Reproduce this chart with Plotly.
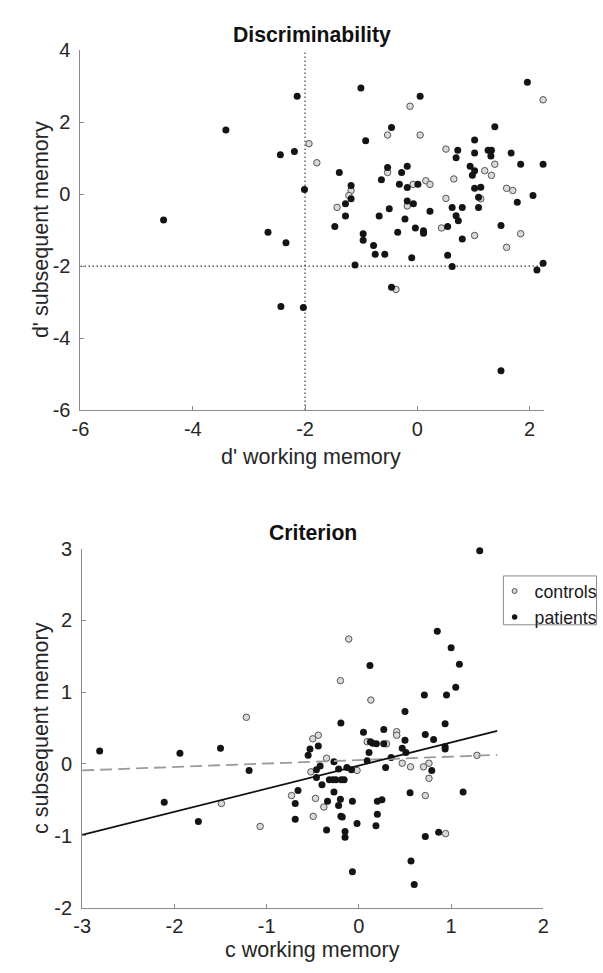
import numpy as np
import plotly.graph_objects as go

# ---- Discriminability (d') : working memory vs subsequent memory ----
dprime_wm_controls = [2.24, -0.13, -0.53, 0.05, -1.93, -1.79, -1.18, -1.22, -1.43, -0.38,
                      -0.53, -0.075, 0.15, 0.225, -0.18, 0.51, 0.65, 0.51, 0.43, 1.02,
                      1.20, 1.32, 1.38, 1.13, 1.59, 1.70, 1.84, 1.59]
dprime_sm_controls = [2.62, 2.44, 1.64, 1.64, 1.40, 0.87, 0.10, -0.04, -0.37, -2.65,
                      0.60, 0.27, 0.37, 0.27, -0.33, 1.25, 0.42, -0.12, -0.94, -1.15,
                      0.65, 0.52, 0.83, -0.13, 0.16, 0.10, -1.10, -1.48]

dprime_wm_patients = [-4.52, -3.41, -2.14, -2.44, -2.19, -2.66, -2.34, -2.43, -2.03, -1.005,
                      0.05, 1.96, -0.46, 1.38, -0.92, -2.01, -1.39, -1.18, -1.18, -1.28,
                      -1.28, -1.47, -0.965, -0.965, -0.78, -0.75, -0.58, -1.11, -0.46, -0.10,
                      -0.68, -0.64, -0.53, -0.28, -0.18, -0.32, -0.18, 0.01, -0.18, -0.07,
                      -0.50, -0.22, -0.35, -0.035, 0.11, 0.11, 0.225, 0.72, 0.69, 0.62,
                      0.80, 0.69, 0.73, 0.54, 0.80, 0.54, 0.62, 1.02, 1.02, 1.26,
                      1.32, 1.31, 0.94, 1.02, 0.98, 1.02, 1.13, 1.09, 1.09, 1.67,
                      1.84, 2.24, 1.78, 2.06, 1.49, 2.24, 2.13, 1.49]
dprime_sm_patients = [-0.72, 1.78, 2.72, 1.09, 1.18, -1.06, -1.35, -3.12, -3.15, 2.95,
                      2.72, 3.11, 1.85, 1.87, 1.48, 0.13, 0.60, 0.24, -0.13, -0.27,
                      -0.61, -0.90, -1.10, -1.28, -1.43, -1.67, -1.67, -1.97, -2.59, -1.77,
                      -0.61, 0.40, 0.74, 0.60, 0.77, 0.27, 0.18, 0.27, -0.19, -0.27,
                      -0.41, -0.69, -1.06, -0.94, -1.02, -1.09, -0.48, 1.22, 1.01, -0.37,
                      -0.37, -0.60, -0.74, -0.90, -1.25, -1.70, -2.01, 1.50, 1.14, 1.22,
                      1.22, 1.06, 0.77, 0.65, 0.52, 0.16, 0.19, -0.09, -0.37, 1.14,
                      0.83, 0.83, -0.23, -0.04, -0.87, -1.92, -2.11, -4.91]

dprime_cutoff = -2.0
dprime_ticks = [-6, -4, -2, 0, 2]
dprime_yticks = [-6, -4, -2, 0, 2, 4]

# ---- Criterion (c) : working memory vs subsequent memory ----
c_wm_controls = [-0.11, -0.20, 0.13, 0.41, 0.41, 0.09, 0.30, 1.28, 0.47, 0.56,
                 0.70, 0.76, 0.76, -0.02, -0.35, -0.50, -0.44, -0.52, -0.47, -0.38,
                 -0.495, 0.94, 0.72, -1.22, -0.73, -1.49, -1.07]
c_sm_controls = [1.74, 1.16, 0.89, 0.45, 0.40, 0.31, 0.28, 0.12, 0.01, -0.04,
                 -0.04, 0.01, -0.20, -0.09, 0.08, 0.35, 0.40, -0.11, -0.48, -0.60,
                 -0.73, -0.97, -0.44, 0.65, -0.44, -0.55, -0.87]

c_wm_patients = [1.31, 0.85, 1.00, 1.09, 0.12, 1.05, 0.71, 0.95, 0.50, -0.195,
                 0.935, 0.05, 0.27, 0.72, 0.81, 0.50, 0.125, 0.15, 0.19, 0.27,
                 0.47, 0.935, 0.935, 0.51, 0.11, 0.09, 0.35, 0.79, 0.29, -0.08,
                 -0.13, -0.22, -0.27, -0.44, -0.55, -0.53, -0.46, -0.42, -0.46, -0.40,
                 -0.32, -0.28, -0.25, -0.19, -0.16, -0.27, -0.20, -0.07, 0.20, 0.25,
                 -0.34, -0.22, -0.66, -0.69, -0.69, -0.195, -0.18, -0.02, 0.20, 0.185,
                 -0.35, -0.15, -0.15, 0.72, 0.865, 0.555, 1.13, -0.07, 0.565, 0.60,
                 -2.81, -1.94, -1.50, -1.19, -2.11, -1.74]
c_sm_patients = [2.97, 1.85, 1.62, 1.39, 1.37, 1.07, 0.96, 0.96, 0.73, 0.57,
                 0.56, 0.44, 0.48, 0.41, 0.34, 0.33, 0.31, 0.29, 0.28, 0.28,
                 0.22, 0.24, 0.21, 0.16, 0.16, 0.045, 0.09, -0.09, -0.05, -0.08,
                 -0.05, -0.07, 0.03, 0.25, 0.12, 0.21, -0.08, -0.03, -0.19, -0.29,
                 -0.22, -0.22, -0.22, -0.22, -0.22, -0.39, -0.49, -0.52, -0.52, -0.50,
                 -0.52, -0.58, -0.37, -0.55, -0.77, -0.73, -0.74, -0.83, -0.70, -0.86,
                 -0.92, -0.94, -1.02, -1.01, -0.95, -0.40, -0.39, -1.50, -1.35, -1.68,
                 0.18, 0.15, 0.22, -0.09, -0.535, -0.80]

c_xticks = [-3, -2, -1, 0, 1, 2]
c_yticks = [-2, -1, 0, 1, 2, 3]

# least-squares lines (slope, intercept) drawn over the c working-memory span
fit_x = [-3.0, 1.5]
fit_patients = (0.322, -0.023)
fit_controls = (0.048, 0.054)

# ---- styling ----
W, H = 603, 973
FONT = "Liberation Sans, Arial, Helvetica, sans-serif"
TXT = "#262626"
AX = "#8a8a8a"
CTRL_FILL, CTRL_EDGE = "#d9d9d9", "#555555"
PAT_FILL = "#141414"


def px_x(p):
    return p / W


def px_y(p):
    return 1 - p / H


def tick_text(vals):
    # plain hyphen-minus labels
    return [str(v) for v in vals]


ctrl_marker = dict(size=6.5, color=CTRL_FILL, line=dict(color=CTRL_EDGE, width=1))
pat_marker = dict(size=7, color=PAT_FILL, line=dict(width=0))
guide_line = dict(color="#3c3c3c", width=1.2, dash="1.5px,2.5px")

fig = go.Figure()

# top panel: cutoff guides
fig.add_trace(go.Scatter(x=[dprime_cutoff, dprime_cutoff], y=[-6, 4], mode="lines",
                         line=guide_line, showlegend=False, hoverinfo="skip",
                         xaxis="x", yaxis="y"))
fig.add_trace(go.Scatter(x=[-6, 2.25], y=[dprime_cutoff, dprime_cutoff], mode="lines",
                         line=guide_line, showlegend=False, hoverinfo="skip",
                         xaxis="x", yaxis="y"))

fig.add_trace(go.Scatter(x=dprime_wm_controls, y=dprime_sm_controls, mode="markers",
                         marker=ctrl_marker, cliponaxis=False, showlegend=False,
                         name="controls", xaxis="x", yaxis="y"))
fig.add_trace(go.Scatter(x=dprime_wm_patients, y=dprime_sm_patients, mode="markers",
                         marker=pat_marker, cliponaxis=False, showlegend=False,
                         name="patients", xaxis="x", yaxis="y"))

# bottom panel
fig.add_trace(go.Scatter(x=c_wm_controls, y=c_sm_controls, mode="markers",
                         marker=ctrl_marker, cliponaxis=False, showlegend=False,
                         name="controls", xaxis="x2", yaxis="y2"))
fig.add_trace(go.Scatter(x=c_wm_patients, y=c_sm_patients, mode="markers",
                         marker=pat_marker, cliponaxis=False, showlegend=False,
                         name="patients", xaxis="x2", yaxis="y2"))

fx = np.array(fit_x)
fig.add_trace(go.Scatter(x=fx, y=fit_controls[0] * fx + fit_controls[1], mode="lines",
                         line=dict(color="#9a9a9a", width=1.8, dash="12px,6px"),
                         showlegend=False, hoverinfo="skip", xaxis="x2", yaxis="y2"))
fig.add_trace(go.Scatter(x=fx, y=fit_patients[0] * fx + fit_patients[1], mode="lines",
                         line=dict(color="#111111", width=1.8),
                         showlegend=False, hoverinfo="skip", xaxis="x2", yaxis="y2"))

# legend entries (smaller symbols than the plotted points)
fig.add_trace(go.Scatter(x=[None], y=[None], mode="markers", name="controls",
                         marker=dict(size=5, color=CTRL_FILL, line=dict(color=CTRL_EDGE, width=1)),
                         xaxis="x2", yaxis="y2"))
fig.add_trace(go.Scatter(x=[None], y=[None], mode="markers", name="patients",
                         marker=dict(size=5.5, color=PAT_FILL),
                         xaxis="x2", yaxis="y2"))

axis_common = dict(showline=True, linecolor=AX, linewidth=1, ticks="inside", ticklen=4,
                   tickcolor=AX, tickwidth=1, showgrid=False, zeroline=False,
                   tickfont=dict(family=FONT, size=20, color=TXT), mirror=False)

fig.update_layout(
    width=W, height=H,
    margin=dict(l=0, r=0, t=0, b=0),
    paper_bgcolor="white", plot_bgcolor="white",
    font=dict(family=FONT, color=TXT),
    xaxis=dict(domain=[px_x(73.3), px_x(548.3)], range=[-6, 2.25],
               tickvals=dprime_ticks, ticktext=tick_text(dprime_ticks),
               anchor="y", ticklabelstandoff=1, **axis_common),
    yaxis=dict(domain=[px_y(408.3), px_y(40)], range=[-6, 4],
               tickvals=dprime_yticks, ticktext=tick_text(dprime_yticks),
               anchor="x", ticklabelstandoff=5, **axis_common),
    xaxis2=dict(domain=[px_x(75), px_x(548)], range=[-3, 2],
                tickvals=c_xticks, ticktext=tick_text(c_xticks),
                anchor="y2", ticklabelstandoff=0, **axis_common),
    yaxis2=dict(domain=[px_y(917.3), px_y(550)], range=[-2, 3],
                tickvals=c_yticks, ticktext=tick_text(c_yticks),
                anchor="x2", ticklabelstandoff=5, **axis_common),
    legend=dict(x=px_x(498), y=px_y(575), xanchor="left", yanchor="top",
                bgcolor="rgba(0,0,0,0)", borderwidth=0,
                font=dict(family=FONT, size=17.7, color="#1a1a1a")),
    shapes=[dict(type="rect", xref="paper", yref="paper",
                 x0=px_x(507), x1=px_x(602.5), y0=px_y(628), y1=px_y(578),
                 line=dict(color="#8a8a8a", width=1), fillcolor="white", layer="below")],
)

title_font = dict(family=FONT, size=21.2, color="#111111")
label_font = dict(family=FONT, size=21.5, color=TXT)
annotations = [
    dict(text="<b>Discriminability</b>", x=px_x(310.8), y=px_y(24.5), font=title_font),
    dict(text="d' working memory", x=px_x(309.7), y=px_y(456), font=label_font),
    dict(text="d' subsequent memory", x=px_x(33), y=px_y(224), font=label_font, textangle=-90),
    dict(text="<b>Criterion</b>", x=px_x(311.5), y=px_y(533.4), font=title_font),
    dict(text="c working memory", x=px_x(310.8), y=px_y(961), font=label_font),
    dict(text="c subsequent memory", x=px_x(33), y=px_y(733.5), font=label_font, textangle=-90),
]
for a in annotations:
    fig.add_annotation(xref="paper", yref="paper", showarrow=False,
                       xanchor="center", yanchor="middle", **a)

fig.write_html("out.html")
